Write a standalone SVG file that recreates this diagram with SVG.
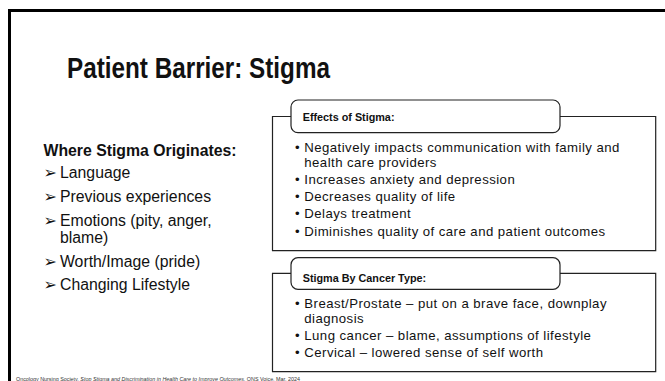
<svg xmlns="http://www.w3.org/2000/svg" width="665" height="381" viewBox="0 0 665 381">
<style>
text{font-family:"Liberation Sans","DejaVu Sans",sans-serif;fill:#111}
.t{font-weight:bold;font-size:30px}
.h{font-weight:bold;font-size:15.8px}
.l{font-size:15.8px}
.a{font-family:"DejaVu Sans",sans-serif;font-size:16px}
.lb{font-weight:bold;font-size:10.8px}
.b{font-size:13.2px;letter-spacing:0.45px}
.frame{fill:none;stroke:#222;stroke-width:1.2}
.tab{fill:#fff;stroke:#222;stroke-width:1.2}
.f{font-size:4.8px;fill:#333}
</style>
<rect width="665" height="381" fill="#fff"/>
<path d="M9.5,381 V10.5 H665" fill="none" stroke="#000" stroke-width="3"/>
<g id="title"><text class="t" x="67" y="78" textLength="263" lengthAdjust="spacingAndGlyphs">Patient Barrier: Stigma</text></g>
<g id="origins">
<text class="h" x="43.5" y="155.7">Where Stigma Originates:</text>
<text class="a" x="43.5" y="178.3">➢</text><text class="l" x="60" y="178.3">Language</text>
<text class="a" x="43.5" y="202.3">➢</text><text class="l" x="60" y="202.3">Previous experiences</text>
<text class="a" x="43.5" y="225.7">➢</text><text class="l" x="60" y="225.7">Emotions (pity, anger,</text>
<text class="l" x="60" y="243.3">blame)</text>
<text class="a" x="43.5" y="266.7">➢</text><text class="l" x="60" y="266.7">Worth/Image (pride)</text>
<text class="a" x="43.5" y="290">➢</text><text class="l" x="60" y="290">Changing Lifestyle</text>
</g>
<g id="effects">
<path class="frame" d="M291,116.5 H272.5 V250.7 H655.7 V116.5 H560"/>
<rect class="tab" x="291" y="100" width="269" height="32.7" rx="7"/>
<text class="lb" x="302.7" y="120.5">Effects of Stigma:</text>
<text class="b" x="295" y="152">•</text><text class="b" x="304.3" y="152">Negatively impacts communication with family and</text>
<text class="b" x="304.3" y="167">health care providers</text>
<text class="b" x="295" y="184">•</text><text class="b" x="304.3" y="184">Increases anxiety and depression</text>
<text class="b" x="295" y="201">•</text><text class="b" x="304.3" y="201">Decreases quality of life</text>
<text class="b" x="295" y="218">•</text><text class="b" x="304.3" y="218">Delays treatment</text>
<text class="b" x="295" y="235.5">•</text><text class="b" x="304.3" y="235.5">Diminishes quality of care and patient outcomes</text>
</g>
<g id="cancer-type">
<path class="frame" d="M291,273.3 H272.5 V371.7 H655.7 V273.3 H560"/>
<rect class="tab" x="291" y="257.7" width="269" height="31.6" rx="7"/>
<text class="lb" x="302.7" y="281.5">Stigma By Cancer Type:</text>
<text class="b" x="295" y="307.5">•</text><text class="b" x="304.3" y="307.5">Breast/Prostate – put on a brave face, downplay</text>
<text class="b" x="304.3" y="322.5">diagnosis</text>
<text class="b" x="295" y="339.5">•</text><text class="b" x="304.3" y="339.5">Lung cancer – blame, assumptions of lifestyle</text>
<text class="b" x="295" y="356.5">•</text><text class="b" x="304.3" y="356.5">Cervical – lowered sense of self worth</text>
</g>
<g id="connectors"></g>
<g id="footer"><text class="f" x="16" y="380.5" textLength="284" lengthAdjust="spacingAndGlyphs">Oncology Nursing Society, <tspan font-style="italic">Stop Stigma and Discrimination in Health Care to Improve Outcomes</tspan>, ONS Voice, Mar. 2024</text></g>
</svg>
